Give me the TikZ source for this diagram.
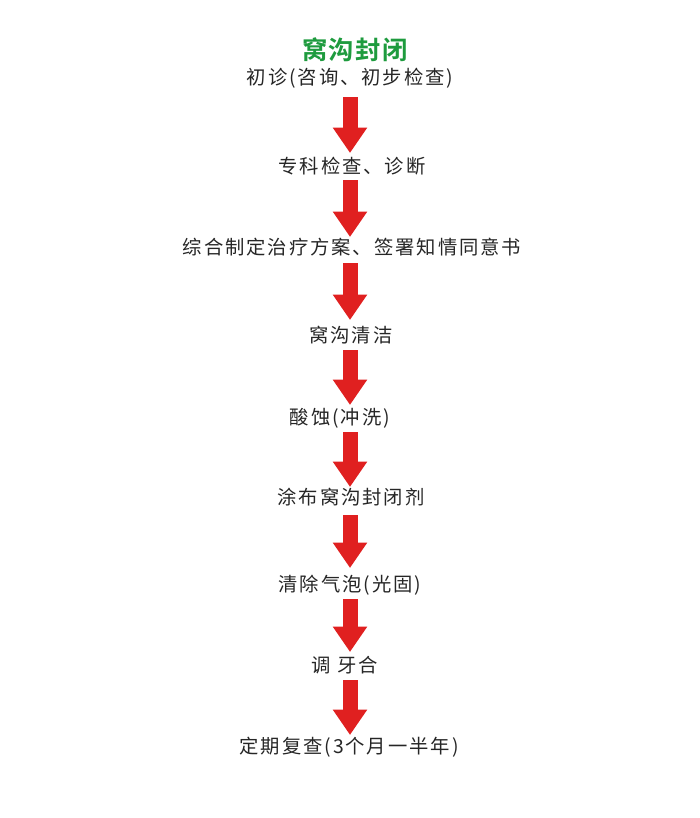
\documentclass[tikz,border=0pt]{standalone}
\usepackage{fontspec}
\usetikzlibrary{arrows.meta}
\newfontfamily\cjk[LetterSpace=10]{Noto Sans CJK SC}
\newfontfamily\cjktitle[LetterSpace=6]{Noto Sans CJK SC Bold}
\definecolor{titlegreen}{HTML}{1E9B3E}
\definecolor{arrowred}{HTML}{E02020}
\begin{document}
\begin{tikzpicture}[x=0.75pt,y=-0.75pt,
  steptext/.style={inner sep=0pt, font=\cjk\fontsize{14.5pt}{17pt}\selectfont, text=black!85},
  bigarrow/.style={draw=arrowred, line width=11.25pt,
    -{Triangle[length=19pt,width=24.5pt]}}]
\useasboundingbox (0,0) rectangle (700,818);
\coordinate (axis) at (350,0);
\node[font=\cjktitle\fontsize{19pt}{22pt}\selectfont, text=titlegreen, inner sep=0pt] (title) at (355,50) {窝沟封闭};
\node[steptext] (s1) at (350,78) {初诊(咨询、初步检查)};
\node[steptext] (s2) at (352,166) {专科检查、诊断};
\node[steptext] (s3) at (352,247) {综合制定治疗方案、签署知情同意书};
\node[steptext] (s4) at (351,335) {窝沟清洁};
\node[steptext] (s5) at (340,418) {酸蚀(冲洗)};
\node[steptext] (s6) at (351,497) {涂布窝沟封闭剂};
\node[steptext] (s7) at (350,585) {清除气泡(光固)};
\node[steptext] (s8) at (345,665) {调\ 牙合};
\node[steptext] (s9) at (349,747) {定期复查(3个月一半年)};
\foreach \a/\b/\s/\e in {s1/s2/19/13, s2/s3/14/10, s3/s4/16/15, s4/s5/15/13,
                         s5/s6/14/10, s6/s7/18/17, s7/s8/14/13, s8/s9/15/12}{
  \draw[bigarrow, shorten <={\s*0.75pt}, shorten >={\e*0.75pt}]
    (axis |- \a.center) -- (axis |- \b.center);
}
\end{tikzpicture}
\end{document}
